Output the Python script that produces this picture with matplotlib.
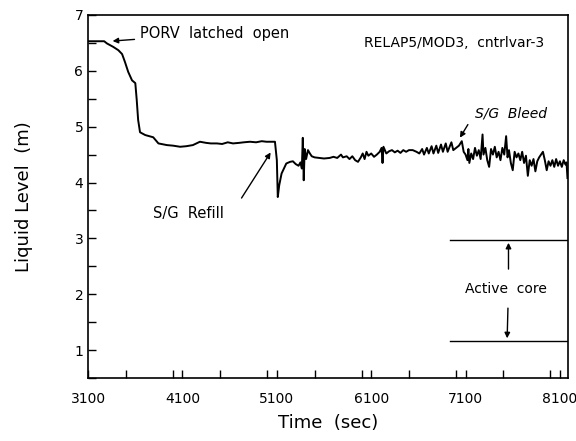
import matplotlib
matplotlib.use("Agg")
import matplotlib.pyplot as plt
from matplotlib.ticker import MultipleLocator

time_s = [3100, 3180, 3270, 3300, 3365, 3420, 3460, 3490, 3525, 3565, 3600, 3615, 3630, 3650,
          3705, 3790, 3845, 3935, 4000, 4075, 4140, 4210, 4285, 4350, 4400, 4465, 4520, 4580,
          4635, 4700, 4750, 4815, 4880, 4940, 4990, 5040, 5080, 5100, 5110, 5125, 5150, 5175,
          5200, 5240, 5270, 5300, 5330, 5350, 5365, 5375, 5385, 5395, 5410, 5430, 5450, 5470,
          5500, 5550, 5600, 5660, 5700, 5740, 5780, 5800, 5840, 5870, 5900, 5930, 5960, 5990,
          6010, 6030, 6050, 6070, 6100, 6130, 6160, 6190, 6210, 6220, 6230, 6260, 6290, 6320,
          6350, 6380, 6410, 6440, 6470, 6500, 6540, 6580, 6610, 6640, 6660, 6690, 6710, 6740,
          6760, 6790, 6810, 6840, 6860, 6890, 6910, 6950, 6970, 7000, 7030, 7060, 7080, 7100,
          7120, 7130, 7140, 7160, 7180, 7200, 7220, 7240, 7260, 7280, 7290, 7310, 7330, 7350,
          7370, 7390, 7410, 7430, 7450, 7470, 7490, 7510, 7530, 7545, 7560, 7580, 7600, 7620,
          7640, 7660, 7680, 7700, 7720, 7740, 7760, 7780, 7800, 7820, 7840, 7860, 7880, 7900,
          7920, 7940, 7960, 7980, 8000, 8020, 8040, 8060, 8080, 8100, 8120, 8140, 8160, 8170,
          8180]
level_m = [6.53, 6.53, 6.53, 6.49, 6.43, 6.37, 6.30, 6.16, 5.98, 5.83, 5.78, 5.48, 5.12, 4.90,
           4.85, 4.81, 4.70, 4.67, 4.66, 4.64, 4.65, 4.67, 4.73, 4.71, 4.70, 4.70, 4.69, 4.72,
           4.70, 4.71, 4.72, 4.73, 4.72, 4.74, 4.73, 4.73, 4.73, 4.40, 3.74, 3.95, 4.16, 4.25,
           4.34, 4.37, 4.38, 4.33, 4.30, 4.36, 4.25, 4.80, 4.04, 4.60, 4.42, 4.58, 4.52, 4.47,
           4.45, 4.44, 4.43, 4.44, 4.46, 4.44, 4.50, 4.45, 4.47, 4.42, 4.47, 4.40, 4.37, 4.45,
           4.52, 4.42, 4.55, 4.48, 4.52, 4.46, 4.50, 4.55, 4.62, 4.35, 4.64, 4.52, 4.56, 4.58,
           4.54, 4.57, 4.53, 4.58, 4.55, 4.58, 4.58, 4.55, 4.52, 4.60, 4.50, 4.62, 4.52, 4.65,
           4.52, 4.66, 4.53, 4.68, 4.55, 4.70, 4.55, 4.72, 4.58, 4.62, 4.66, 4.74, 4.55, 4.50,
           4.40, 4.60, 4.35, 4.52, 4.42, 4.62, 4.48, 4.58, 4.42, 4.86, 4.50, 4.62, 4.40, 4.28,
           4.60, 4.50, 4.64, 4.45, 4.55, 4.40, 4.62, 4.50, 4.83, 4.45, 4.58, 4.35, 4.22, 4.55,
           4.45, 4.52, 4.40, 4.55, 4.35, 4.48, 4.12, 4.40, 4.30, 4.42, 4.20, 4.38, 4.45, 4.50,
           4.55, 4.40, 4.22, 4.38, 4.30, 4.40, 4.28, 4.42, 4.30, 4.38, 4.28, 4.40, 4.32, 4.36,
           4.08]

x_ticks = [3100, 4100, 5100, 6100, 7100, 8100]
y_ticks = [1, 2, 3, 4, 5, 6, 7]
core_top, core_bottom = 2.97, 1.16

fig = plt.figure(figsize=(5.76, 4.41), dpi=100)
ax = fig.add_axes([0.153, 0.143, 0.833, 0.823])
ax.plot(time_s, level_m, color="black", lw=1.4)

ax.set_xlim(3100, 8185)
ax.set_ylim(0.5, 7)
ax.set_xticks(x_ticks)
ax.set_yticks(y_ticks)
ax.xaxis.set_minor_locator(MultipleLocator(500))
ax.yaxis.set_minor_locator(MultipleLocator(0.5))
ax.tick_params(which="both", direction="in", top=False, right=False, labelsize=10)
ax.tick_params(which="major", length=6, width=1)
ax.tick_params(which="minor", length=6, width=1)
ax.tick_params(axis="x", pad=10)
for s in ax.spines.values():
    s.set_linewidth(1.2)

ax.set_xlabel("Time  (sec)", fontsize=13, labelpad=6)
ax.set_ylabel("Liquid Level  (m)", fontsize=13, labelpad=30)

# Active core markers
ax.plot([6930, 8185], [core_top, core_top], color="black", lw=1)
ax.plot([6930, 8185], [core_bottom, core_bottom], color="black", lw=1)
ax.annotate("", xy=(7555, core_top), xytext=(7555, 2.4),
            arrowprops=dict(arrowstyle="-|>", color="black", lw=1, mutation_scale=8))
ax.annotate("", xy=(7540, core_bottom), xytext=(7550, 1.8),
            arrowprops=dict(arrowstyle="-|>", color="black", lw=1, mutation_scale=8))
ax.text(7530, 2.1, "Active  core", fontsize=10, ha="center", va="center")

ax.text(7935, 6.5, "RELAP5/MOD3,  cntrlvar-3", fontsize=10, ha="right", va="center")

ax.annotate("PORV  latched  open", xy=(3330, 6.53), xytext=(3650, 6.67),
            fontsize=10.5, ha="left", va="center",
            arrowprops=dict(arrowstyle="-|>", color="black", lw=1, mutation_scale=8))
ax.annotate("", xy=(5050, 4.58), xytext=(4710, 3.68),
            arrowprops=dict(arrowstyle="-|>", color="black", lw=1, mutation_scale=8))
ax.text(4160, 3.45, "S/G  Refill", fontsize=10.5, ha="center", va="center")
ax.annotate("", xy=(7025, 4.76), xytext=(7140, 5.08),
            arrowprops=dict(arrowstyle="-|>", color="black", lw=1, mutation_scale=8))
ax.text(7195, 5.24, "S/G  Bleed", fontsize=10, ha="left", va="center", style="italic")

fig.savefig("out.png", dpi=100)
